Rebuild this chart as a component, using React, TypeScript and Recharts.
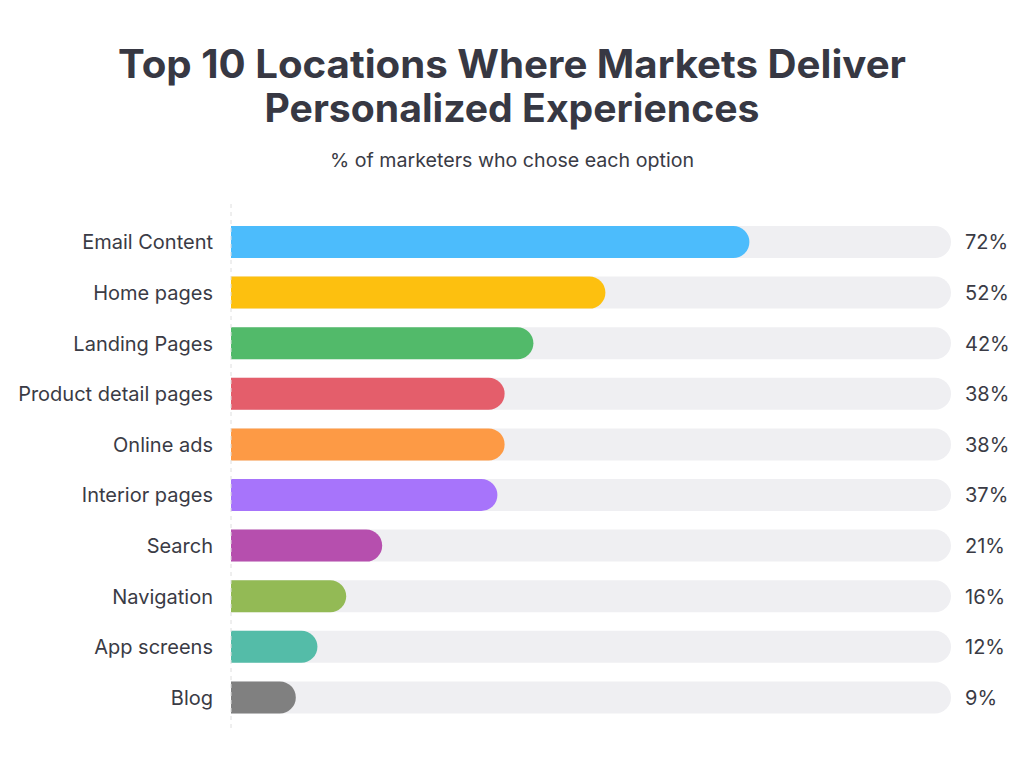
import { Bar, BarChart, Cell, XAxis, YAxis } from "recharts";

const categories = [
  "Email Content",
  "Home pages",
  "Landing Pages",
  "Product detail pages",
  "Online ads",
  "Interior pages",
  "Search",
  "Navigation",
  "App screens",
  "Blog",
];
const shares = [72, 52, 42, 38, 38, 37, 21, 16, 12, 9];
const barColors = [
  "#4cbcfc",
  "#fdc00f",
  "#52ba6a",
  "#e45e6b",
  "#fd9a45",
  "#a774fb",
  "#b64fae",
  "#93ba55",
  "#54bca8",
  "#808080",
];

const data = categories.map((name, i) => ({ name, value: shares[i], label: `${shares[i]}%` }));

const textColor = "#3a3b45";
const font = "Inter, 'Noto Sans', sans-serif";

export default function App() {
  return (
    <div style={{ position: "absolute", left: 0, top: 0, width: 1024, height: 777, background: "#fff", fontFamily: font }}>
      <svg width={1024} height={190} style={{ position: "absolute", left: 0, top: 0 }}>
        <text x={512} y={78} textAnchor="middle" fontSize={39} fontWeight={700} fill="#373843" textLength={788} lengthAdjust="spacingAndGlyphs">
          Top 10 Locations Where Markets Deliver
        </text>
        <text x={512} y={122} textAnchor="middle" fontSize={39} fontWeight={700} fill="#373843" textLength={495} lengthAdjust="spacingAndGlyphs">
          Personalized Experiences
        </text>
        <text x={512} y={167} textAnchor="middle" fontSize={19} fill={textColor} textLength={364} lengthAdjust="spacingAndGlyphs">
          % of marketers who chose each option
        </text>
      </svg>
      <div style={{ position: "absolute", left: 0, top: 0 }}>
        <BarChart
          width={1024}
          height={777}
          data={data}
          layout="vertical"
          margin={{ top: 204, right: 0, bottom: 47, left: 0 }}
          barCategoryGap={0}
        >
          <XAxis type="number" domain={[0, 100]} hide />
          <YAxis
            yAxisId="left"
            type="category"
            dataKey="name"
            width={231}
            padding={{ top: 13, bottom: 7 }}
            tickLine={false}
            tickSize={0}
            tickMargin={18}
            axisLine={{ stroke: "#dedede", strokeDasharray: "4 4" }}
            tick={{ fill: textColor, fontSize: 20, fontFamily: font }}
          />
          <YAxis
            yAxisId="right"
            orientation="right"
            type="category"
            dataKey="label"
            width={73}
            padding={{ top: 13, bottom: 7 }}
            tickLine={false}
            tickSize={0}
            tickMargin={14}
            axisLine={false}
            tick={{ fill: textColor, fontSize: 20, fontFamily: font, textAnchor: "start" }}
          />
          <Bar
            yAxisId="left"
            dataKey="value"
            barSize={32}
            radius={[0, 16, 16, 0]}
            background={{ fill: "#efeff2", radius: [0, 16, 16, 0] } as any}
            isAnimationActive={false}
          >
            {data.map((d, i) => (
              <Cell key={d.name} fill={barColors[i]} />
            ))}
          </Bar>
        </BarChart>
      </div>
    </div>
  );
}
